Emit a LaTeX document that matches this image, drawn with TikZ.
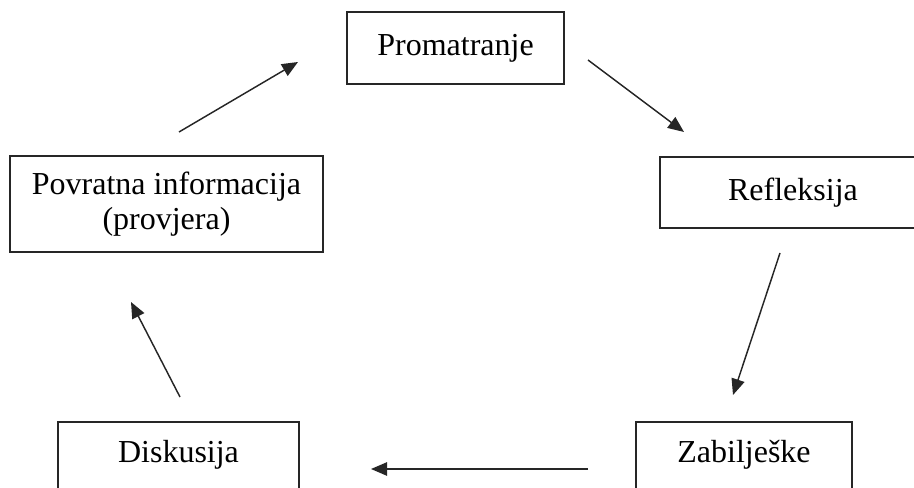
\documentclass[tikz,border=0pt]{standalone}
\usepackage{fontspec}
\setmainfont{Liberation Serif}
\usetikzlibrary{arrows.meta}
\begin{document}
\begin{tikzpicture}[x=0.75pt,y=-0.75pt,
  box/.style={draw=black!85, line width=1.3pt, inner sep=0pt, align=center,
    font=\fontsize{24}{26.5}\selectfont},
  arr/.style={draw=black!85, line width=1.1pt, -{Triangle[length=12pt,width=10pt]}}]
\useasboundingbox (0,0) rectangle (914,488);
\clip (0,0) rectangle (914,488);
\node[box, minimum width=162.75pt, minimum height=54pt] (pro) at (455.5,48) {Promatranje};
\node[box, minimum width=199.5pt, minimum height=53.25pt] (ref) at (793,192.5) {Refleksija};
\node[box, minimum width=234.75pt, minimum height=72pt] (pov) at (166.5,204) {Povratna informacija\\(provjera)};
\node[box, minimum width=180.75pt, anchor=base, text height=30pt, text depth=37.5pt] (dis) at (178.5,462) {Diskusija};
\node[box, minimum width=162pt, anchor=base, text height=30pt, text depth=37.5pt] (zab) at (744,462) {Zabilješke};
\coordinate (a1s) at (179,132); \coordinate (a1e) at (298,62);
\coordinate (a2s) at (588,60);  \coordinate (a2e) at (684,132);
\coordinate (a3s) at (780,253); \coordinate (a3e) at (733,395);
\coordinate (a4s) at (588,469); \coordinate (a4e) at (371,469);
\coordinate (a5s) at (180,397); \coordinate (a5e) at (131,302);
\draw[arr] (a1s) -- (a1e);
\draw[arr] (a2s) -- (a2e);
\draw[arr] (a3s) -- (a3e);
\draw[arr] (a4s) -- (a4e);
\draw[arr] (a5s) -- (a5e);
\end{tikzpicture}
\end{document}
